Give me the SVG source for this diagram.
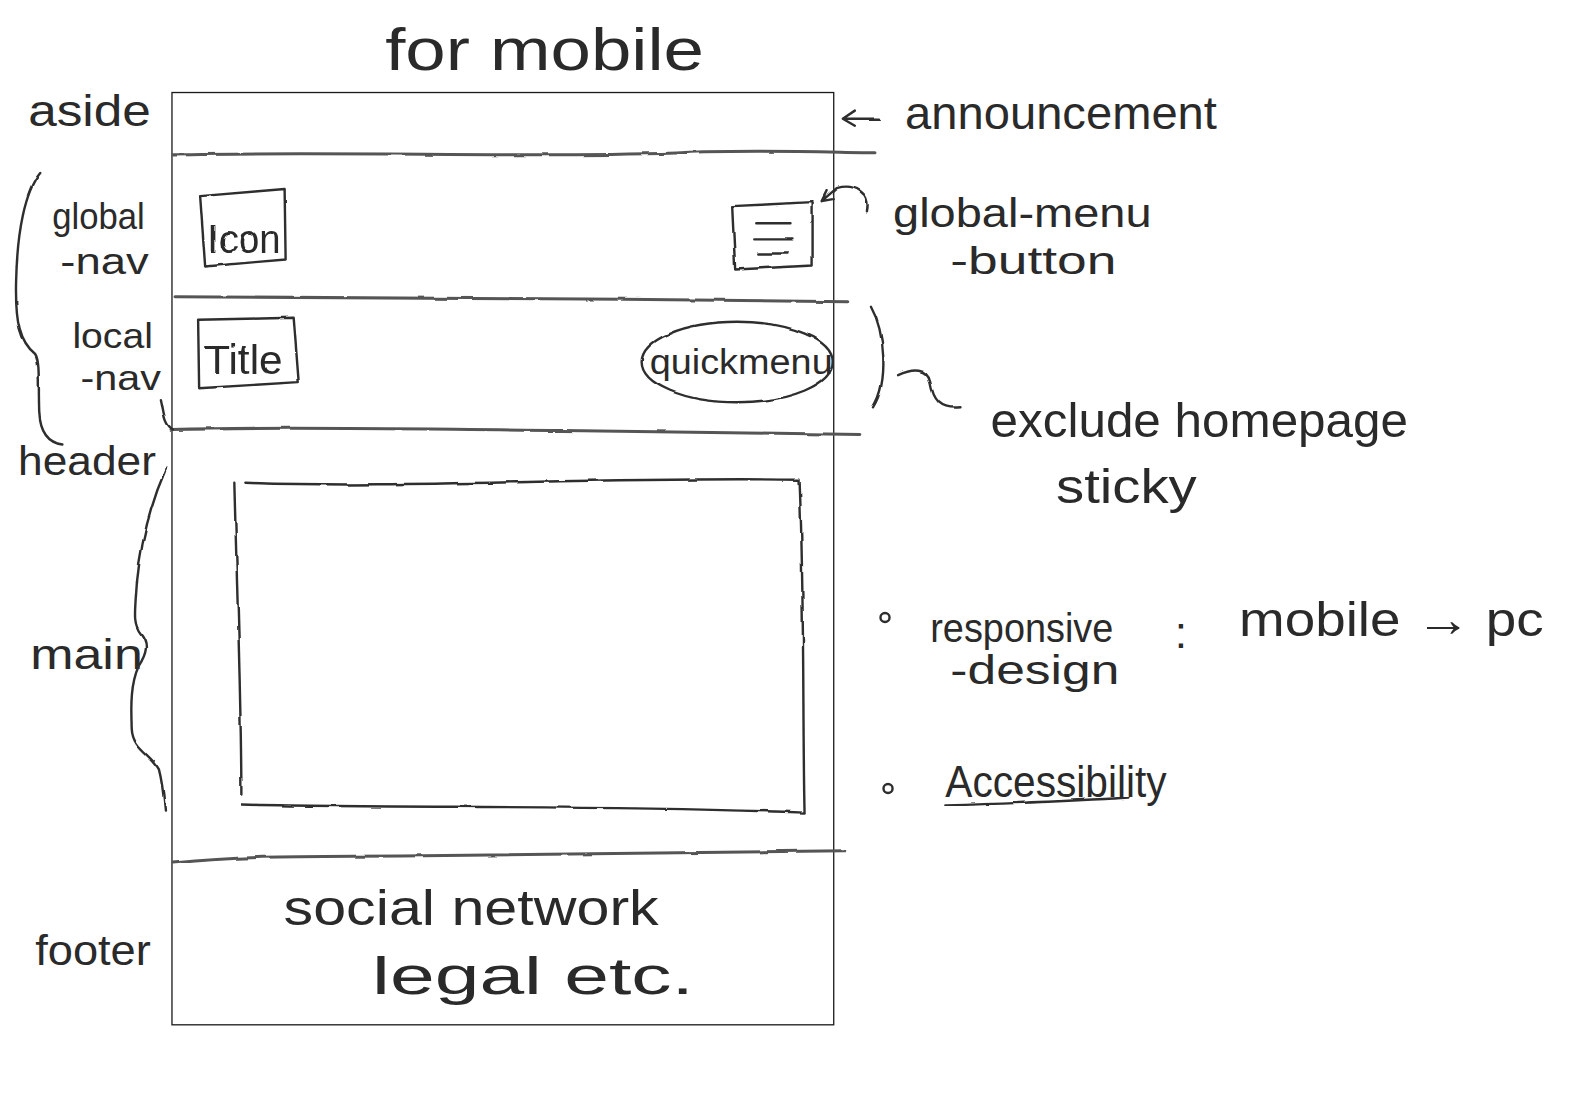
<svg xmlns="http://www.w3.org/2000/svg" width="1577" height="1118" viewBox="0 0 1577 1118">
<defs>
<style>
.t{font-family:"Liberation Sans","DejaVu Sans",sans-serif;fill:#2a2a2a;}
.s{fill:none;stroke:#2e2e2e;stroke-width:2.4;stroke-linecap:round;stroke-linejoin:round;}
.p{fill:none;stroke:#555;stroke-width:3;stroke-linecap:round;stroke-linejoin:round;}
.f{fill:none;stroke:#1a1a1a;stroke-width:1.3;}
</style>
<filter id="rough" x="-5%" y="-5%" width="110%" height="110%">
<feTurbulence type="fractalNoise" baseFrequency="0.04" numOctaves="2" seed="3" result="n"/>
<feDisplacementMap in="SourceGraphic" in2="n" scale="3" xChannelSelector="R" yChannelSelector="G"/>
</filter>
</defs>
<rect width="1577" height="1118" fill="#fff"/>
<g transform="scale(1.0057)">
<g id="frame">
<rect class="f" x="171" y="92" width="658" height="927"/>
</g>
<g id="dividers" filter="url(#rough)">
<path class="p" d="M172,154 C350,150 560,158 700,151 C780,149 840,152 870,152"/>
<path class="p" d="M174,295 C400,296 620,297 843,300"/>
<path class="p" d="M170,427 C300,424 420,427 560,428 C700,430 800,431 855,432"/>
<path class="p" d="M172,858 C260,850 300,852 420,851 C600,850 760,847 840,846"/>
</g>
<g id="title"><text class="t" x="383" y="70" font-size="58" textLength="317" lengthAdjust="spacingAndGlyphs">for mobile</text></g>
<g id="aside"><text class="t" x="28" y="125" font-size="44" textLength="122" lengthAdjust="spacingAndGlyphs">aside</text></g>
<g id="announcement">
<text class="t" x="900" y="128" font-size="46" textLength="310" lengthAdjust="spacingAndGlyphs">announcement</text>
</g>
<g id="global-nav">
<text class="t" x="52" y="228" font-size="36" textLength="92" lengthAdjust="spacingAndGlyphs">global</text>
<text class="t" x="60" y="272" font-size="36" textLength="88" lengthAdjust="spacingAndGlyphs">-nav</text>
</g>
<g id="icon" filter="url(#rough)">
<path class="s" d="M199,195 L283,188 L284,258 L204,265 Z"/>
<text class="t" x="207" y="252" font-size="40" textLength="72" lengthAdjust="spacingAndGlyphs">Icon</text>
</g>
<g id="menu-button" filter="url(#rough)">
<path class="s" d="M728,205 L808,201 L808,264 L731,268 Z"/>
<path class="s" d="M752,222 L786,222 M750,238 L788,238 M754,252 L784,252"/>
</g>
<g id="global-menu-button-label">
<text class="t" x="888" y="226" font-size="40" textLength="257" lengthAdjust="spacingAndGlyphs">global-menu</text>
<text class="t" x="945" y="272" font-size="38" textLength="165" lengthAdjust="spacingAndGlyphs">-button</text>
</g>
<g id="local-nav">
<text class="t" x="72" y="346" font-size="34" textLength="80" lengthAdjust="spacingAndGlyphs">local</text>
<text class="t" x="80" y="388" font-size="34" textLength="80" lengthAdjust="spacingAndGlyphs">-nav</text>
</g>
<g id="title-box" filter="url(#rough)">
<path class="s" d="M197,318 L292,316 L297,380 L198,386 Z"/>
<text class="t" x="203" y="372" font-size="40" textLength="78" lengthAdjust="spacingAndGlyphs">Title</text>
</g>
<g id="quickmenu">
<ellipse class="s" cx="733" cy="360" rx="95" ry="40" filter="url(#rough)"/>
<text class="t" x="646" y="372" font-size="34" textLength="182" lengthAdjust="spacingAndGlyphs">quickmenu</text>
</g>
<g id="header-label"><text class="t" x="18" y="472" font-size="40" textLength="137" lengthAdjust="spacingAndGlyphs">header</text></g>
<g id="sticky-note">
<text class="t" x="985" y="435" font-size="48" textLength="415" lengthAdjust="spacingAndGlyphs">exclude  homepage</text>
<text class="t" x="1050" y="500" font-size="48" textLength="140" lengthAdjust="spacingAndGlyphs">sticky</text>
</g>
<g id="main-box" filter="url(#rough)">
<path class="s" d="M233,480 C236,600 240,700 240,790 M244,480 C400,486 600,474 795,477 C800,600 798,720 800,808 C600,800 400,804 240,800"/>
</g>
<g id="main-label"><text class="t" x="30" y="665" font-size="42" textLength="112" lengthAdjust="spacingAndGlyphs">main</text></g>
<g id="footer-label"><text class="t" x="35" y="960" font-size="42" textLength="115" lengthAdjust="spacingAndGlyphs">footer</text></g>
<g id="footer-content">
<text class="t" x="282" y="920" font-size="50" textLength="373" lengthAdjust="spacingAndGlyphs">social  network</text>
<text class="t" x="370" y="988" font-size="52" textLength="320" lengthAdjust="spacingAndGlyphs">legal   etc.</text>
</g>
<g id="responsive">
<circle class="s" cx="880" cy="614" r="4.5"/>
<text class="t" x="925" y="638" font-size="40" textLength="182" lengthAdjust="spacingAndGlyphs">responsive</text>
<text class="t" x="945" y="680" font-size="40" textLength="168" lengthAdjust="spacingAndGlyphs">-design</text>
<text class="t" x="1168" y="644" font-size="44">:</text>
<text class="t" x="1232" y="632" font-size="48" textLength="303" lengthAdjust="spacingAndGlyphs">mobile → pc</text>
</g>
<g id="accessibility">
<circle class="s" cx="883" cy="784" r="4.5"/>
<text class="t" x="940" y="792" font-size="44" textLength="220" lengthAdjust="spacingAndGlyphs">Accessibility</text>
<path class="s" d="M940,801 C1000,799 1060,797 1122,793" filter="url(#rough)"/>
</g>
<g id="connectors" filter="url(#rough)">
<path class="s" d="M875,118 L840,118 M850,110 L838,118 L850,125"/>
<path class="s" d="M862,210 C866,192 850,182 832,187 L817,200 M817,200 L828,198 M817,200 L822,190"/>
<path class="s" d="M866,305 C880,330 884,380 868,405"/>
<path class="s" d="M893,373 C908,366 922,366 925,380 C928,398 935,407 955,405"/>
<path class="s" d="M40,172 C25,190 17,230 16,280 C15,320 20,340 35,352 C40,360 38,380 39,410 C40,430 48,440 62,442"/>
<path class="s" d="M160,397 C163,410 163,422 172,427"/>
<path class="s" d="M165,466 C150,500 140,540 136,580 C134,610 132,620 140,630 C148,640 146,650 138,662 C130,680 130,700 131,725 C132,745 150,750 158,765 C162,780 163,795 164,806"/>
</g>
</g>
</svg>
